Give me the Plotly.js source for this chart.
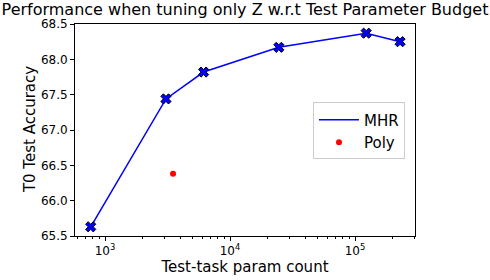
<!DOCTYPE html>
<html><head><meta charset="utf-8">
<script src="https://cdn.plot.ly/plotly-3.0.1.min.js"></script>
<style>html,body{margin:0;padding:0;background:#fff}</style>
</head><body><div id="chart" style="width:490px;height:280px"></div>
<script>
const mhrParams = [768, 3072, 6144, 24576, 122880, 229376];
const mhrAcc = [65.63, 67.44, 67.82, 68.17, 68.37, 68.25];
const polyParams = [3500];
const polyAcc = [66.38];
const xTickVals = [1000, 10000, 100000];
const xTickText = ['10<sup>3</sup>', '10<sup>4</sup>', '10<sup>5</sup>'];
const yTickVals = [65.5, 66.0, 66.5, 67.0, 67.5, 68.0, 68.5];
const yTitle = 'T0 Test Accuracy';

const minorVals = [];
[100, 1000, 10000, 100000].forEach(d => { for (let k = 2; k <= 9; k++) minorVals.push(k * d); });

const font = 'DejaVu Sans, sans-serif';
const data = [
  {x: mhrParams, y: mhrAcc, mode: 'lines', name: 'MHR', line: {color: '#0000ff', width: 1.5}},
  {x: mhrParams, y: mhrAcc, mode: 'markers', showlegend: false,
   marker: {symbol: 'x', size: 9, color: '#0000ff', line: {color: '#000', width: 1}}},
  {x: polyParams, y: polyAcc, mode: 'markers', name: 'Poly', marker: {color: '#ff0000', size: 6}}
];
const layout = {
  width: 490, height: 280,
  margin: {l: 75, r: 75, t: 24, b: 44},
  paper_bgcolor: '#fff', plot_bgcolor: '#fff',
  font: {family: font, color: '#000', size: 12},
  title: {text: 'Performance when tuning only Z w.r.t Test Parameter Budget', font: {size: 16}, x: 0.5, xanchor: 'center', y: 0.965, yanchor: 'middle'},
  xaxis: {type: 'log', range: [Math.log10(575), Math.log10(302000)],
    tickmode: 'array', tickvals: xTickVals, ticktext: xTickText,
    ticks: 'outside', ticklen: 4, tickcolor: '#000', showgrid: false, zeroline: false,
    showline: true, linecolor: '#000', linewidth: 1, mirror: true,
    minor: {tickmode: 'array', tickvals: minorVals, ticks: 'outside', ticklen: 2, tickcolor: '#000', showgrid: false},
    title: {text: 'Test-task param count', font: {size: 15}, standoff: 2}},
  yaxis: {range: [65.5, 68.5], tickmode: 'array', tickvals: yTickVals, tickformat: '.1f',
    ticks: 'outside', ticklen: 4, tickcolor: '#000', showgrid: false, zeroline: false,
    showline: true, linecolor: '#000', linewidth: 1, mirror: true},
  annotations: [{text: yTitle, xref: 'paper', yref: 'paper', x: -0.132, y: 0.5,
    xanchor: 'center', yanchor: 'middle', textangle: -90, showarrow: false, font: {size: 15}}],
  legend: {x: 0.70, y: 0.63, xanchor: 'left', yanchor: 'top', font: {size: 15}, itemwidth: 40,
    bordercolor: '#cccccc', borderwidth: 1, bgcolor: 'rgba(255,255,255,0.8)'},
  showlegend: true
};
Plotly.newPlot('chart', data, layout, {displayModeBar: false, staticPlot: true});
</script></body></html>
